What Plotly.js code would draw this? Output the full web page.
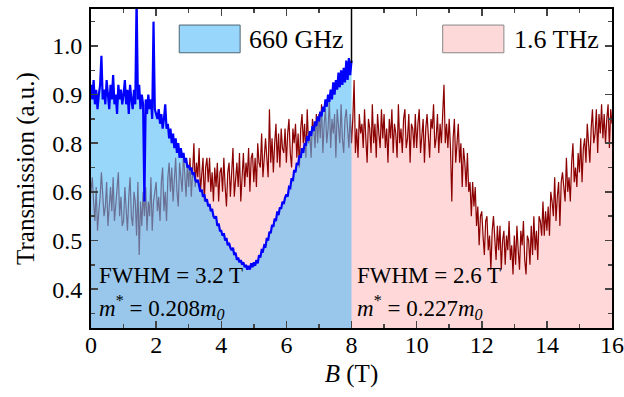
<!DOCTYPE html>
<html>
<head>
<meta charset="utf-8">
<script src="https://cdn.plot.ly/plotly-3.0.1.min.js"></script>
<style>html,body{margin:0;padding:0;background:#fff}#chart{width:624px;height:397px}</style>
</head>
<body>
<div id="chart"></div>
<script>
// Magnetic field sampling (T)
const B_START = 0, B_STEP = 0.04;

// 1.6 THz transmission (a.u., axis position units), one row per tesla
const thz16 = [
0.70,0.73,0.68,0.64,0.71,0.62,0.66,0.69,0.74,0.70,0.65,0.67,0.72,0.63,0.68,0.71,0.66,0.73,0.64,0.67,0.70,0.74,0.65,0.69,0.63,
0.64,0.71,0.67,0.62,0.69,0.73,0.65,0.63,0.70,0.68,0.61,0.72,0.57,0.68,0.63,0.70,0.65,0.71,0.62,0.68,0.65,0.73,0.62,0.68,0.70,
0.72,0.66,0.69,0.64,0.72,0.75,0.66,0.70,0.64,0.73,0.76,0.70,0.75,0.68,0.73,0.77,0.70,0.67,0.76,0.73,0.70,0.78,0.73,0.69,0.76,
0.71,0.77,0.69,0.74,0.80,0.71,0.76,0.73,0.79,0.70,0.74,0.77,0.68,0.75,0.77,0.72,0.77,0.70,0.74,0.68,0.75,0.71,0.76,0.68,0.74,
0.75,0.70,0.77,0.71,0.67,0.74,0.76,0.69,0.73,0.79,0.69,0.73,0.76,0.71,0.78,0.68,0.74,0.78,0.71,0.76,0.73,0.79,0.70,0.77,0.78,
0.72,0.77,0.71,0.80,0.76,0.75,0.82,0.73,0.78,0.81,0.77,0.73,0.87,0.76,0.81,0.74,0.80,0.84,0.76,0.82,0.75,0.83,0.79,0.78,0.83,
0.76,0.82,0.85,0.78,0.75,0.83,0.80,0.84,0.77,0.82,0.75,0.83,0.86,0.80,0.84,0.77,0.87,0.80,0.82,0.77,0.85,0.83,0.79,0.86,0.80,
0.86,0.81,0.88,0.78,0.84,0.87,0.80,0.83,0.89,0.79,0.85,0.82,0.86,0.77,0.87,0.84,0.80,0.88,0.81,0.78,0.85,0.87,0.82,0.79,0.86,
0.80,0.85,0.93,0.78,0.83,0.77,0.86,0.82,0.84,0.79,0.87,0.81,0.76,0.85,0.83,0.78,0.88,0.80,0.84,0.77,0.86,0.82,0.79,0.87,0.81,
0.86,0.79,0.83,0.76,0.85,0.81,0.87,0.78,0.84,0.82,0.77,0.88,0.80,0.83,0.78,0.85,0.87,0.79,0.81,0.86,0.76,0.84,0.83,0.79,0.86,
0.79,0.84,0.87,0.78,0.82,0.85,0.76,0.83,0.86,0.80,0.77,0.85,0.83,0.88,0.79,0.81,0.86,0.78,0.84,0.80,0.87,0.92,0.80,0.84,0.79,
0.85,0.79,0.68,0.81,0.85,0.76,0.81,0.84,0.76,0.80,0.71,0.79,0.76,0.71,0.78,0.70,0.72,0.65,0.72,0.67,0.71,0.63,0.67,0.59,0.65,
0.66,0.61,0.57,0.64,0.65,0.58,0.61,0.54,0.62,0.65,0.59,0.56,0.63,0.58,0.63,0.54,0.60,0.62,0.55,0.61,0.58,0.64,0.56,0.59,0.53,
0.61,0.55,0.63,0.58,0.54,0.62,0.59,0.64,0.56,0.53,0.61,0.60,0.55,0.63,0.57,0.65,0.58,0.62,0.56,0.65,0.64,0.61,0.68,0.61,0.66,
0.62,0.67,0.61,0.70,0.68,0.65,0.73,0.64,0.69,0.72,0.63,0.72,0.74,0.70,0.68,0.77,0.70,0.73,0.68,0.76,0.80,0.72,0.75,0.71,0.78,
0.74,0.81,0.72,0.79,0.81,0.76,0.84,0.79,0.76,0.83,0.87,0.80,0.82,0.87,0.78,0.86,0.82,0.88,0.81,0.86,0.80,0.85,0.88,0.79,0.87,
0.84];

// 660 GHz transmission (a.u., axis position units), one row per tesla
const ghz660 = [
0.92,0.89,0.93,0.88,0.91,0.87,0.90,0.92,0.98,0.89,0.91,0.88,0.93,0.90,0.87,0.92,0.89,0.94,0.88,0.90,0.86,0.92,0.89,0.91,0.88,
0.90,0.93,0.88,0.91,0.86,0.92,0.89,0.87,0.91,0.88,1.10,0.89,0.92,0.87,0.90,0.88,0.68,0.89,0.86,0.90,0.87,0.89,0.85,1.05,0.87,
0.86,0.85,0.87,0.84,0.86,0.83,0.85,0.88,0.83,0.84,0.81,0.83,0.80,0.82,0.79,0.81,0.78,0.80,0.77,0.79,0.77,0.78,0.76,0.77,0.75,
0.755,0.745,0.75,0.735,0.74,0.725,0.72,0.725,0.71,0.70,0.705,0.69,0.695,0.68,0.685,0.67,0.675,0.66,0.665,0.65,0.645,0.65,0.63,0.635,0.62,
0.62,0.61,0.615,0.60,0.605,0.59,0.595,0.585,0.58,0.585,0.57,0.575,0.56,0.565,0.555,0.56,0.55,0.555,0.545,0.55,0.54,0.548,0.54,0.553,0.545,
0.555,0.548,0.56,0.553,0.57,0.565,0.58,0.578,0.59,0.588,0.605,0.60,0.618,0.615,0.632,0.628,0.645,0.64,0.66,0.652,0.668,0.665,0.68,0.675,0.688,
0.695,0.69,0.71,0.708,0.728,0.722,0.745,0.74,0.76,0.755,0.775,0.77,0.79,0.78,0.80,0.795,0.815,0.805,0.825,0.815,0.835,0.825,0.845,0.835,0.855,
0.845,0.865,0.855,0.875,0.865,0.89,0.875,0.90,0.885,0.91,0.89,0.925,0.90,0.93,0.91,0.945,0.915,0.95,0.92,0.955,0.925,0.97,0.93,0.975,0.94,
0.97];

// Y tick labels as printed on the figure
const yTickPos = [0.5, 0.6, 0.7, 0.8, 0.9, 1.0];
const yTickText = ["0.4", "0.5", "0.6", "0.8", "0.9", "1.0"];
const xTickVals = [0, 2, 4, 6, 8, 10, 12, 14, 16];

const bThz = thz16.map((_, i) => +(B_START + i * B_STEP).toFixed(3));
const bGhz = ghz660.map((_, i) => +(B_START + i * B_STEP).toFixed(3));

const FONT = "'Liberation Serif', 'Times New Roman', serif";

const traces = [
  {x: bThz, y: thz16, type: 'scatter', mode: 'lines', fill: 'tozeroy',
   fillcolor: 'rgb(255,217,217)', line: {color: '#8B0000', width: 1.2}, showlegend: false, hoverinfo: 'skip'},
  {x: bGhz, y: ghz660, type: 'scatter', mode: 'lines', fill: 'tozeroy',
   fillcolor: 'rgba(83,187,247,0.6)', line: {color: '#0000FF', width: 2.2}, showlegend: false, hoverinfo: 'skip'}
];

const layout = {
  width: 624, height: 397,
  margin: {l: 91, r: 12, t: 9, b: 69},
  paper_bgcolor: '#fff', plot_bgcolor: '#fff',
  font: {family: FONT, color: '#000', size: 24},
  xaxis: {
    range: [0, 16], tickvals: xTickVals, ticks: 'inside', ticklen: 7, tickwidth: 1.5,
    showline: true, linewidth: 2, linecolor: '#000', mirror: 'allticks', showgrid: false, zeroline: false,
    minor: {tickmode: 'linear', tick0: 0, dtick: 1, ticks: 'inside', ticklen: 4, tickwidth: 1.5},
    tickfont: {size: 24, family: FONT, color: '#000'}, ticklabelstandoff: -6,
    title: {text: '<i>B</i> (T)', font: {size: 25, family: FONT, color: '#000'}, standoff: 8}
  },
  yaxis: {
    range: [0.42, 1.076], tickmode: 'array', tickvals: yTickPos, ticktext: yTickText,
    ticks: 'inside', ticklen: 7, tickwidth: 1.5,
    showline: true, linewidth: 2, linecolor: '#000', mirror: 'allticks', showgrid: false, zeroline: false,
    minor: {tickmode: 'linear', tick0: 0, dtick: 0.05, ticks: 'inside', ticklen: 4, tickwidth: 1.5},
    tickfont: {size: 24, family: FONT, color: '#000'}, ticklabelstandoff: 2,
    title: {text: 'Transmission (a.u.)', font: {size: 25, family: FONT, color: '#000'}, standoff: 10}
  },
  shapes: [
    {type: 'line', xref: 'x', yref: 'y', x0: 8, x1: 8, y0: 0.965, y1: 1.076, line: {color: '#000', width: 1.5}},
    {type: 'rect', xref: 'x', yref: 'y', x0: 2.71, x1: 4.58, y0: 0.986, y1: 1.043,
     fillcolor: 'rgb(153,214,252)', line: {color: '#4d6470', width: 1}},
    {type: 'rect', xref: 'x', yref: 'y', x0: 10.8, x1: 12.68, y0: 0.986, y1: 1.043,
     fillcolor: 'rgb(253,217,217)', line: {color: '#888', width: 1}}
  ],
  annotations: [
    {xref: 'x', yref: 'y', x: 4.8, y: 1.013, xanchor: 'left', yanchor: 'middle', showarrow: false,
     text: '660 GHz', font: {size: 26, family: FONT, color: '#000'}},
    {xref: 'x', yref: 'y', x: 12.92, y: 1.013, xanchor: 'left', yanchor: 'middle', showarrow: false,
     text: '1.6 THz', font: {size: 26, family: FONT, color: '#000'}},
    {xref: 'x', yref: 'y', x: 0.18, y: 0.527, xanchor: 'left', yanchor: 'middle', showarrow: false,
     text: 'FWHM = 3.2 T', font: {size: 23, family: FONT, color: '#000'}},
    {xref: 'x', yref: 'y', x: 0.18, y: 0.463, xanchor: 'left', yanchor: 'middle', showarrow: false,
     text: '<i>m</i><sup>*</sup> = 0.208<i>m</i><sub><i>0</i></sub>', font: {size: 23, family: FONT, color: '#000'}},
    {xref: 'x', yref: 'y', x: 8.12, y: 0.527, xanchor: 'left', yanchor: 'middle', showarrow: false,
     text: 'FWHM = 2.6 T', font: {size: 23, family: FONT, color: '#000'}},
    {xref: 'x', yref: 'y', x: 8.12, y: 0.463, xanchor: 'left', yanchor: 'middle', showarrow: false,
     text: '<i>m</i><sup>*</sup> = 0.227<i>m</i><sub><i>0</i></sub>', font: {size: 23, family: FONT, color: '#000'}}
  ]
};

Plotly.newPlot('chart', traces, layout, {staticPlot: true, displayModeBar: false});
</script>
</body>
</html>
